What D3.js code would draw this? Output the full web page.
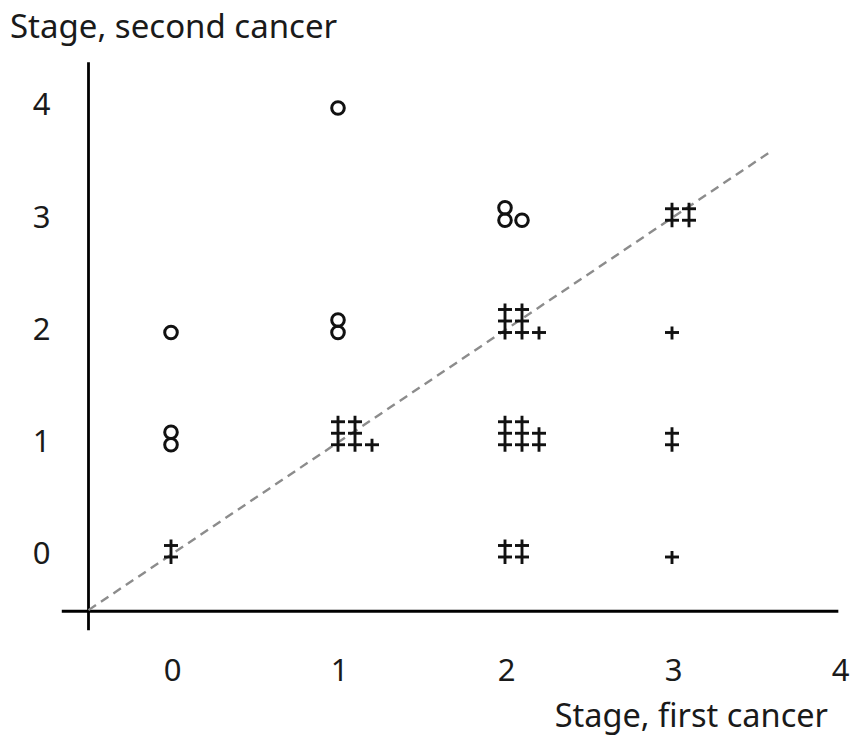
<!DOCTYPE html>
<html>
<head>
<meta charset="utf-8">
<script src="https://cdn.jsdelivr.net/npm/d3@7"></script>
<style>
    body { margin: 0; background: #fff; }
    text { font-family: "Noto Sans", "Open Sans", sans-serif; fill: #1a1a1a; }
</style>
</head>
<body>
<script>
// stage of first cancer (x) and second cancer (y) for each cell
var stageFirst  = [0, 0, 0, 1, 1, 1, 2, 2, 2, 2, 3, 3, 3, 3];
var stageSecond = [2, 1, 0, 4, 2, 1, 3, 2, 1, 0, 3, 2, 1, 0];
// symbol used in each cell
var symbols = ["circle", "circle", "cross", "circle", "circle", "cross",
    "circle", "cross", "cross", "cross", "cross", "cross", "cross", "cross"];
// patients per stacked column in each cell
var stacks = [[1], [2], [2], [1], [2], [3, 3, 1],
    [2, 1], [3, 3, 1], [3, 3, 2], [2, 2], [2, 2], [1], [2], [1]];

var xTicks = [0, 1, 2, 3, 4];
var yTicks = [0, 1, 2, 3, 4];
var xTitle = "Stage, first cancer";
var yTitle = "Stage, second cancer";

var width = 852,
    height = 740;

var svg = d3.select("body")
    .append("svg")
    .attr("width", width)
    .attr("height", height);

var x = d3.scaleLinear().domain([0, 4]).range([172, 840]);
var y = d3.scaleLinear().domain([0, 4]).range([554, 105]);

// axis lines, they cross at (-0.5, -0.5)
svg.append("line")
    .attr("x1", x(-0.5)).attr("x2", x(-0.5))
    .attr("y1", y(4.38)).attr("y2", y(-0.68))
    .attr("stroke", "black")
    .attr("stroke-width", 2.8);
svg.append("line")
    .attr("x1", x(-0.66)).attr("x2", x(3.99))
    .attr("y1", y(-0.51)).attr("y2", y(-0.51))
    .attr("stroke", "black")
    .attr("stroke-width", 2.8);

// tick labels
var xAxis = svg.append("g")
    .attr("transform", "translate(0," + y(-0.51) + ")")
    .call(d3.axisBottom(x).tickValues(xTicks).tickSize(0).tickFormat(d3.format("d")));
xAxis.select(".domain").remove();
xAxis.selectAll("text")
    .attr("y", 70)
    .attr("dy", 0)
    .style("font-size", "31px")
    .style("font-family", "Noto Sans")
    .style("fill", "#1a1a1a");

var yAxis = svg.append("g")
    .attr("transform", "translate(" + x(-0.5) + ",0)")
    .call(d3.axisLeft(y).tickValues(yTicks).tickSize(0).tickFormat(d3.format("d")));
yAxis.select(".domain").remove();
yAxis.selectAll("text")
    .attr("x", -38)
    .style("font-size", "31px")
    .style("font-family", "Noto Sans")
    .style("fill", "#1a1a1a");

// titles
svg.append("text")
    .attr("x", 10)
    .attr("y", 38)
    .style("font-size", "33px")
    .text(yTitle);
svg.append("text")
    .attr("x", 828)
    .attr("y", 727)
    .attr("text-anchor", "end")
    .style("font-size", "32.5px")
    .text(xTitle);

// diagonal y = x
svg.append("line")
    .attr("x1", x(-0.5)).attr("y1", y(-0.5))
    .attr("x2", x(3.6)).attr("y2", y(3.6))
    .attr("stroke", "#8c8c8c")
    .attr("stroke-width", 2.4)
    .attr("stroke-dasharray", "9,6");

// stacked symbols
var colGap = 17,
    barGap = 11.5,
    circleGap = 12.5;

for (var i = 0; i < stageFirst.length; ++i) {
    var cx = x(stageFirst[i]) - 1;
    var cy = y(stageSecond[i]) + 3;
    var g = svg.append("g");
    for (var c = 0; c < stacks[i].length; ++c) {
        var n = stacks[i][c];
        var px = cx + c * colGap;
        if (symbols[i] === "circle") {
            for (var k = 0; k < n; ++k) {
                g.append("circle")
                    .attr("cx", px)
                    .attr("cy", cy - k * circleGap)
                    .attr("r", 6.3)
                    .attr("fill", "none")
                    .attr("stroke", "#111")
                    .attr("stroke-width", 3);
            }
        } else {
            g.append("line")
                .attr("x1", px).attr("x2", px)
                .attr("y1", cy - (n - 1) * barGap - 6)
                .attr("y2", cy + 7)
                .attr("stroke", "#111")
                .attr("stroke-width", 2.9);
            for (var k = 0; k < n; ++k) {
                g.append("line")
                    .attr("x1", px - 7).attr("x2", px + 7)
                    .attr("y1", cy - k * barGap)
                    .attr("y2", cy - k * barGap)
                    .attr("stroke", "#111")
                    .attr("stroke-width", 2.9);
            }
        }
    }
}
</script>
</body>
</html>
